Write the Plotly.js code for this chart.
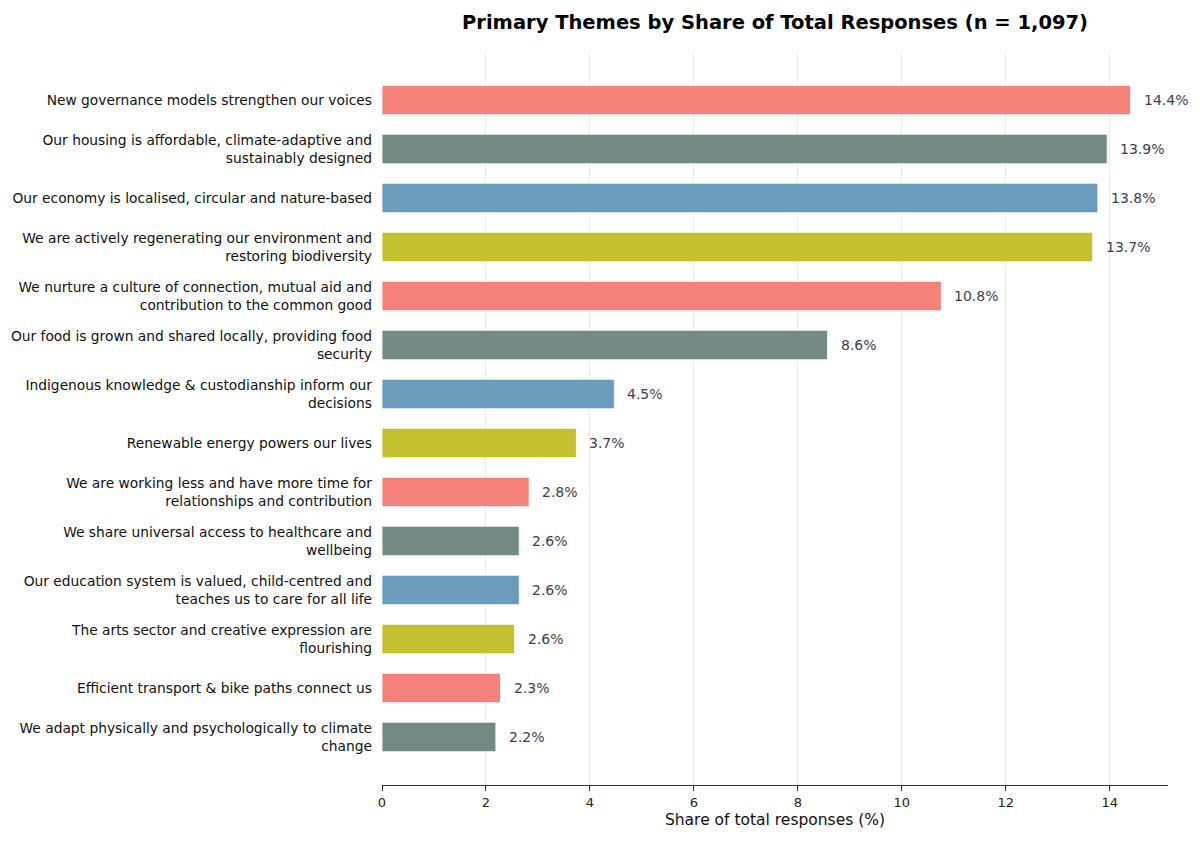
<!DOCTYPE html>
<html>
<head>
<meta charset="utf-8">
<script src="https://cdn.plot.ly/plotly-3.0.1.min.js"></script>
<style>
  html, body { margin: 0; padding: 0; background: #fff; }
  #chart { width: 1200px; height: 844px; }
</style>
</head>
<body>
<div id="chart"></div>
<script>
'use strict';

// themes, top to bottom
const themes = [
    'New governance models strengthen our voices',
    'Our housing is affordable, climate-adaptive and<br>sustainably designed',
    'Our economy is localised, circular and nature-based',
    'We are actively regenerating our environment and<br>restoring biodiversity',
    'We nurture a culture of connection, mutual aid and<br>contribution to the common good',
    'Our food is grown and shared locally, providing food<br>security',
    'Indigenous knowledge & custodianship inform our<br>decisions',
    'Renewable energy powers our lives',
    'We are working less and have more time for<br>relationships and contribution',
    'We share universal access to healthcare and<br>wellbeing',
    'Our education system is valued, child-centred and<br>teaches us to care for all life',
    'The arts sector and creative expression are<br>flourishing',
    'Efficient transport & bike paths connect us',
    'We adapt physically and psychologically to climate<br>change'
];
// bar lengths
const shares = [14.40, 13.95, 13.77, 13.67, 10.76, 8.57, 4.47, 3.74, 2.83, 2.64, 2.64, 2.55, 2.28, 2.19];
// printed labels
const shareLabels = ['14.4%', '13.9%', '13.8%', '13.7%', '10.8%', '8.6%', '4.5%', '3.7%',
                     '2.8%', '2.6%', '2.6%', '2.6%', '2.3%', '2.2%'];
const palette = ['#F4827A', '#738A84', '#6A9BBA', '#C4C12F'];
const xTicks = [0, 2, 4, 6, 8, 10, 12, 14];

let colors = shares.map((v, i) => palette[i % palette.length]);

let trace = {
    type: 'bar',
    orientation: 'h',
    x: shares,
    y: themes,
    marker: {color: colors, line: {color: 'rgba(255,255,255,0.8)', width: 1}},
    hoverinfo: 'skip'
};

let notes = shares.map((v, i) => ({
    x: v,
    y: themes[i],
    xref: 'x',
    yref: 'y',
    text: shareLabels[i],
    showarrow: false,
    xanchor: 'left',
    yanchor: 'middle',
    xshift: 11,
    font: {family: 'DejaVu Sans', size: 14, color: '#3e3e50'}
}));

let layout = {
    width: 1200,
    height: 844,
    margin: {l: 382, r: 32, t: 52, b: 59},
    paper_bgcolor: '#fff',
    plot_bgcolor: '#fff',
    bargap: 0.4,
    showlegend: false,
    font: {family: 'DejaVu Sans', color: '#1a1a1a'},
    title: {
        text: '<b>Primary Themes by Share of Total Responses (n = 1,097)</b>',
        font: {family: 'DejaVu Sans', size: 19.5, color: '#000'},
        x: 0.5, xref: 'paper', xanchor: 'center',
        y: 1 - 22 / 844, yref: 'container', yanchor: 'middle'
    },
    xaxis: {
        range: [0, 15.12],
        tickvals: xTicks,
        ticktext: xTicks.map(String),
        ticks: 'outside',
        ticklen: 5,
        tickcolor: '#333',
        tickfont: {size: 13, color: '#222'},
        showline: true,
        linecolor: '#333',
        linewidth: 1,
        showgrid: true,
        gridcolor: '#ececec',
        gridwidth: 1,
        zeroline: false,
        title: {text: 'Share of total responses (%)', font: {size: 15.5, color: '#111'}, standoff: 5}
    },
    yaxis: {
        type: 'category',
        categoryorder: 'array',
        categoryarray: themes,
        range: [13.98, -0.98],
        ticks: '',
        ticklabelstandoff: 9,
        tickfont: {size: 13.8, color: '#111'},
        showline: false,
        showgrid: false,
        zeroline: false
    },
    annotations: notes
};

Plotly.newPlot('chart', [trace], layout, {staticPlot: true});
</script>
</body>
</html>
